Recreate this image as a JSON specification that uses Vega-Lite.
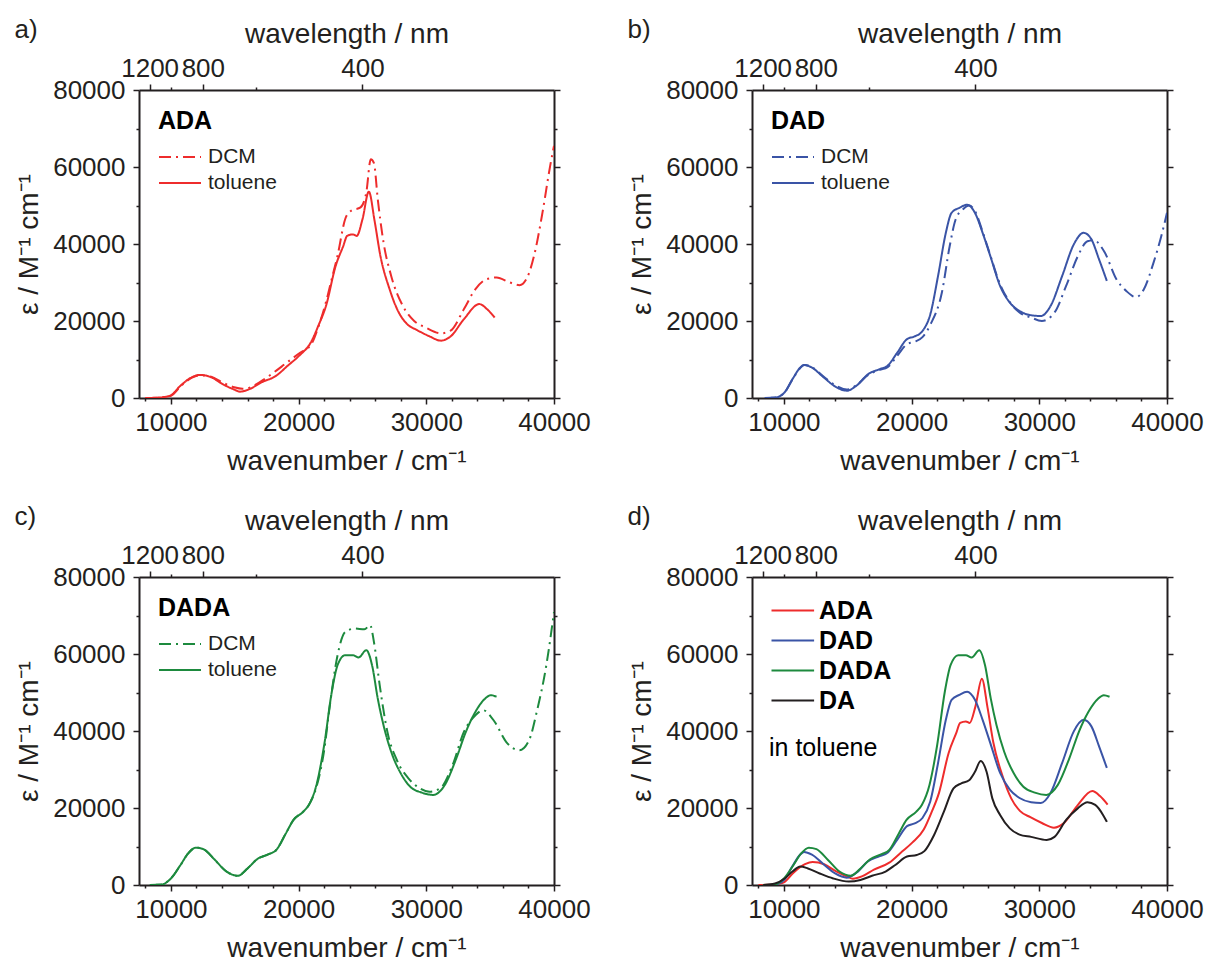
{
  "$schema": "https://vega.github.io/schema/vega-lite/v6.json",
  "background": "white",
  "padding": {"left": 14, "top": 17, "right": 5, "bottom": 5},
  "datasets": {
    "spectra": [
      {"mol":"ADA","solv":"toluene","wn":8000,"eps":0},{"mol":"ADA","solv":"toluene","wn":9000,"eps":100},{"mol":"ADA","solv":"toluene","wn":9600,"eps":300},{"mol":"ADA","solv":"toluene","wn":10000,"eps":700},{"mol":"ADA","solv":"toluene","wn":10750,"eps":3200},{"mol":"ADA","solv":"toluene","wn":11650,"eps":5400},{"mol":"ADA","solv":"toluene","wn":12250,"eps":6000},{"mol":"ADA","solv":"toluene","wn":13150,"eps":5400},{"mol":"ADA","solv":"toluene","wn":14050,"eps":3600},{"mol":"ADA","solv":"toluene","wn":14950,"eps":2200},{"mol":"ADA","solv":"toluene","wn":15400,"eps":1650},{"mol":"ADA","solv":"toluene","wn":16150,"eps":2300},{"mol":"ADA","solv":"toluene","wn":17050,"eps":4000},{"mol":"ADA","solv":"toluene","wn":18250,"eps":5800},{"mol":"ADA","solv":"toluene","wn":19150,"eps":8400},{"mol":"ADA","solv":"toluene","wn":20050,"eps":11000},{"mol":"ADA","solv":"toluene","wn":20950,"eps":14400},{"mol":"ADA","solv":"toluene","wn":21550,"eps":18800},{"mol":"ADA","solv":"toluene","wn":22150,"eps":24000},{"mol":"ADA","solv":"toluene","wn":22900,"eps":34300},{"mol":"ADA","solv":"toluene","wn":23500,"eps":39500},{"mol":"ADA","solv":"toluene","wn":23800,"eps":42100},{"mol":"ADA","solv":"toluene","wn":24250,"eps":42500},{"mol":"ADA","solv":"toluene","wn":24550,"eps":42100},{"mol":"ADA","solv":"toluene","wn":25000,"eps":46400},{"mol":"ADA","solv":"toluene","wn":25500,"eps":53600},{"mol":"ADA","solv":"toluene","wn":25950,"eps":46000},{"mol":"ADA","solv":"toluene","wn":26400,"eps":37000},{"mol":"ADA","solv":"toluene","wn":27100,"eps":28500},{"mol":"ADA","solv":"toluene","wn":27800,"eps":22500},{"mol":"ADA","solv":"toluene","wn":28500,"eps":19200},{"mol":"ADA","solv":"toluene","wn":29300,"eps":17600},{"mol":"ADA","solv":"toluene","wn":30200,"eps":16100},{"mol":"ADA","solv":"toluene","wn":31150,"eps":14900},{"mol":"ADA","solv":"toluene","wn":31900,"eps":16000},{"mol":"ADA","solv":"toluene","wn":32950,"eps":20500},{"mol":"ADA","solv":"toluene","wn":34150,"eps":24400},{"mol":"ADA","solv":"toluene","wn":34750,"eps":23100},{"mol":"ADA","solv":"toluene","wn":35350,"eps":20900},
      {"mol":"ADA","solv":"DCM","wn":8000,"eps":0},{"mol":"ADA","solv":"DCM","wn":9000,"eps":100},{"mol":"ADA","solv":"DCM","wn":10000,"eps":600},{"mol":"ADA","solv":"DCM","wn":10750,"eps":3000},{"mol":"ADA","solv":"DCM","wn":11650,"eps":5300},{"mol":"ADA","solv":"DCM","wn":12250,"eps":5900},{"mol":"ADA","solv":"DCM","wn":13150,"eps":5500},{"mol":"ADA","solv":"DCM","wn":14050,"eps":4000},{"mol":"ADA","solv":"DCM","wn":14950,"eps":2800},{"mol":"ADA","solv":"DCM","wn":15600,"eps":2400},{"mol":"ADA","solv":"DCM","wn":16150,"eps":2700},{"mol":"ADA","solv":"DCM","wn":17050,"eps":4300},{"mol":"ADA","solv":"DCM","wn":18000,"eps":6500},{"mol":"ADA","solv":"DCM","wn":19000,"eps":9000},{"mol":"ADA","solv":"DCM","wn":20000,"eps":11500},{"mol":"ADA","solv":"DCM","wn":21000,"eps":14000},{"mol":"ADA","solv":"DCM","wn":21600,"eps":19000},{"mol":"ADA","solv":"DCM","wn":22150,"eps":25000},{"mol":"ADA","solv":"DCM","wn":22600,"eps":31000},{"mol":"ADA","solv":"DCM","wn":23050,"eps":37000},{"mol":"ADA","solv":"DCM","wn":23650,"eps":46500},{"mol":"ADA","solv":"DCM","wn":24100,"eps":48600},{"mol":"ADA","solv":"DCM","wn":24850,"eps":49500},{"mol":"ADA","solv":"DCM","wn":25300,"eps":53400},{"mol":"ADA","solv":"DCM","wn":25650,"eps":62000},{"mol":"ADA","solv":"DCM","wn":25900,"eps":61000},{"mol":"ADA","solv":"DCM","wn":26200,"eps":51600},{"mol":"ADA","solv":"DCM","wn":26650,"eps":40400},{"mol":"ADA","solv":"DCM","wn":27250,"eps":31700},{"mol":"ADA","solv":"DCM","wn":28150,"eps":24000},{"mol":"ADA","solv":"DCM","wn":29050,"eps":20000},{"mol":"ADA","solv":"DCM","wn":29950,"eps":18300},{"mol":"ADA","solv":"DCM","wn":31150,"eps":16800},{"mol":"ADA","solv":"DCM","wn":31900,"eps":17500},{"mol":"ADA","solv":"DCM","wn":32950,"eps":23100},{"mol":"ADA","solv":"DCM","wn":33850,"eps":28300},{"mol":"ADA","solv":"DCM","wn":34750,"eps":30900},{"mol":"ADA","solv":"DCM","wn":35500,"eps":31300},{"mol":"ADA","solv":"DCM","wn":36550,"eps":30000},{"mol":"ADA","solv":"DCM","wn":37300,"eps":29300},{"mol":"ADA","solv":"DCM","wn":37900,"eps":31300},{"mol":"ADA","solv":"DCM","wn":38500,"eps":37800},{"mol":"ADA","solv":"DCM","wn":39100,"eps":48200},{"mol":"ADA","solv":"DCM","wn":39700,"eps":60300},{"mol":"ADA","solv":"DCM","wn":40000,"eps":65500},
      {"mol":"DAD","solv":"toluene","wn":8500,"eps":0},{"mol":"DAD","solv":"toluene","wn":9300,"eps":100},{"mol":"DAD","solv":"toluene","wn":10060,"eps":1500},{"mol":"DAD","solv":"toluene","wn":10670,"eps":4900},{"mol":"DAD","solv":"toluene","wn":11280,"eps":7900},{"mol":"DAD","solv":"toluene","wn":11580,"eps":8600},{"mol":"DAD","solv":"toluene","wn":12190,"eps":7900},{"mol":"DAD","solv":"toluene","wn":13100,"eps":5400},{"mol":"DAD","solv":"toluene","wn":14010,"eps":3000},{"mol":"DAD","solv":"toluene","wn":14920,"eps":1900},{"mol":"DAD","solv":"toluene","wn":15680,"eps":3200},{"mol":"DAD","solv":"toluene","wn":16600,"eps":6200},{"mol":"DAD","solv":"toluene","wn":17500,"eps":7500},{"mol":"DAD","solv":"toluene","wn":18120,"eps":8400},{"mol":"DAD","solv":"toluene","wn":18880,"eps":11800},{"mol":"DAD","solv":"toluene","wn":19640,"eps":15300},{"mol":"DAD","solv":"toluene","wn":20240,"eps":16000},{"mol":"DAD","solv":"toluene","wn":20850,"eps":17400},{"mol":"DAD","solv":"toluene","wn":21460,"eps":21700},{"mol":"DAD","solv":"toluene","wn":22070,"eps":31700},{"mol":"DAD","solv":"toluene","wn":22680,"eps":42900},{"mol":"DAD","solv":"toluene","wn":23130,"eps":48100},{"mol":"DAD","solv":"toluene","wn":23740,"eps":49400},{"mol":"DAD","solv":"toluene","wn":24350,"eps":50200},{"mol":"DAD","solv":"toluene","wn":24960,"eps":48100},{"mol":"DAD","solv":"toluene","wn":25560,"eps":42900},{"mol":"DAD","solv":"toluene","wn":26170,"eps":36800},{"mol":"DAD","solv":"toluene","wn":26930,"eps":29100},{"mol":"DAD","solv":"toluene","wn":27690,"eps":24800},{"mol":"DAD","solv":"toluene","wn":28450,"eps":22600},{"mol":"DAD","solv":"toluene","wn":29360,"eps":21500},{"mol":"DAD","solv":"toluene","wn":30120,"eps":21300},{"mol":"DAD","solv":"toluene","wn":30880,"eps":23900},{"mol":"DAD","solv":"toluene","wn":31790,"eps":31700},{"mol":"DAD","solv":"toluene","wn":32700,"eps":39900},{"mol":"DAD","solv":"toluene","wn":33470,"eps":42900},{"mol":"DAD","solv":"toluene","wn":34080,"eps":41200},{"mol":"DAD","solv":"toluene","wn":34680,"eps":36000},{"mol":"DAD","solv":"toluene","wn":35290,"eps":30400},
      {"mol":"DAD","solv":"DCM","wn":8500,"eps":0},{"mol":"DAD","solv":"DCM","wn":9300,"eps":100},{"mol":"DAD","solv":"DCM","wn":10060,"eps":1500},{"mol":"DAD","solv":"DCM","wn":10670,"eps":4800},{"mol":"DAD","solv":"DCM","wn":11280,"eps":7800},{"mol":"DAD","solv":"DCM","wn":11580,"eps":8600},{"mol":"DAD","solv":"DCM","wn":12190,"eps":8000},{"mol":"DAD","solv":"DCM","wn":13100,"eps":5600},{"mol":"DAD","solv":"DCM","wn":14010,"eps":3300},{"mol":"DAD","solv":"DCM","wn":14920,"eps":2200},{"mol":"DAD","solv":"DCM","wn":15680,"eps":3300},{"mol":"DAD","solv":"DCM","wn":16600,"eps":6000},{"mol":"DAD","solv":"DCM","wn":17500,"eps":7300},{"mol":"DAD","solv":"DCM","wn":18120,"eps":8000},{"mol":"DAD","solv":"DCM","wn":18880,"eps":11000},{"mol":"DAD","solv":"DCM","wn":19640,"eps":14000},{"mol":"DAD","solv":"DCM","wn":20240,"eps":14600},{"mol":"DAD","solv":"DCM","wn":20850,"eps":15800},{"mol":"DAD","solv":"DCM","wn":21460,"eps":19000},{"mol":"DAD","solv":"DCM","wn":22370,"eps":27400},{"mol":"DAD","solv":"DCM","wn":22980,"eps":39400},{"mol":"DAD","solv":"DCM","wn":23440,"eps":46300},{"mol":"DAD","solv":"DCM","wn":24050,"eps":49100},{"mol":"DAD","solv":"DCM","wn":24500,"eps":50000},{"mol":"DAD","solv":"DCM","wn":24960,"eps":48600},{"mol":"DAD","solv":"DCM","wn":25560,"eps":43200},{"mol":"DAD","solv":"DCM","wn":26170,"eps":37000},{"mol":"DAD","solv":"DCM","wn":26930,"eps":29500},{"mol":"DAD","solv":"DCM","wn":27690,"eps":24900},{"mol":"DAD","solv":"DCM","wn":28450,"eps":22200},{"mol":"DAD","solv":"DCM","wn":29360,"eps":20900},{"mol":"DAD","solv":"DCM","wn":30200,"eps":20000},{"mol":"DAD","solv":"DCM","wn":31190,"eps":22200},{"mol":"DAD","solv":"DCM","wn":32100,"eps":29100},{"mol":"DAD","solv":"DCM","wn":33010,"eps":36800},{"mol":"DAD","solv":"DCM","wn":33770,"eps":40700},{"mol":"DAD","solv":"DCM","wn":34300,"eps":41000},{"mol":"DAD","solv":"DCM","wn":34800,"eps":39500},{"mol":"DAD","solv":"DCM","wn":35140,"eps":37700},{"mol":"DAD","solv":"DCM","wn":36050,"eps":30800},{"mol":"DAD","solv":"DCM","wn":36810,"eps":27800},{"mol":"DAD","solv":"DCM","wn":37570,"eps":26200},{"mol":"DAD","solv":"DCM","wn":38180,"eps":28200},{"mol":"DAD","solv":"DCM","wn":38940,"eps":35100},{"mol":"DAD","solv":"DCM","wn":39550,"eps":42000},{"mol":"DAD","solv":"DCM","wn":40000,"eps":48100},
      {"mol":"DADA","solv":"toluene","wn":8350,"eps":0},{"mol":"DADA","solv":"toluene","wn":9250,"eps":100},{"mol":"DADA","solv":"toluene","wn":10000,"eps":1700},{"mol":"DADA","solv":"toluene","wn":10750,"eps":5200},{"mol":"DADA","solv":"toluene","wn":11350,"eps":8200},{"mol":"DADA","solv":"toluene","wn":11950,"eps":9700},{"mol":"DADA","solv":"toluene","wn":12550,"eps":9300},{"mol":"DADA","solv":"toluene","wn":13450,"eps":6500},{"mol":"DADA","solv":"toluene","wn":14350,"eps":3500},{"mol":"DADA","solv":"toluene","wn":15250,"eps":2400},{"mol":"DADA","solv":"toluene","wn":16000,"eps":4300},{"mol":"DADA","solv":"toluene","wn":16750,"eps":6700},{"mol":"DADA","solv":"toluene","wn":17650,"eps":8000},{"mol":"DADA","solv":"toluene","wn":18250,"eps":9100},{"mol":"DADA","solv":"toluene","wn":19000,"eps":13400},{"mol":"DADA","solv":"toluene","wn":19600,"eps":16900},{"mol":"DADA","solv":"toluene","wn":20350,"eps":19000},{"mol":"DADA","solv":"toluene","wn":20800,"eps":20800},{"mol":"DADA","solv":"toluene","wn":21400,"eps":26000},{"mol":"DADA","solv":"toluene","wn":22000,"eps":36300},{"mol":"DADA","solv":"toluene","wn":22600,"eps":50200},{"mol":"DADA","solv":"toluene","wn":23050,"eps":57100},{"mol":"DADA","solv":"toluene","wn":23650,"eps":59700},{"mol":"DADA","solv":"toluene","wn":24250,"eps":59700},{"mol":"DADA","solv":"toluene","wn":24700,"eps":59100},{"mol":"DADA","solv":"toluene","wn":25300,"eps":61000},{"mol":"DADA","solv":"toluene","wn":25750,"eps":57100},{"mol":"DADA","solv":"toluene","wn":26200,"eps":48400},{"mol":"DADA","solv":"toluene","wn":26650,"eps":41500},{"mol":"DADA","solv":"toluene","wn":27250,"eps":34600},{"mol":"DADA","solv":"toluene","wn":28000,"eps":29000},{"mol":"DADA","solv":"toluene","wn":28750,"eps":25500},{"mol":"DADA","solv":"toluene","wn":29650,"eps":24000},{"mol":"DADA","solv":"toluene","wn":30550,"eps":23400},{"mol":"DADA","solv":"toluene","wn":31450,"eps":26000},{"mol":"DADA","solv":"toluene","wn":32350,"eps":32900},{"mol":"DADA","solv":"toluene","wn":33100,"eps":39800},{"mol":"DADA","solv":"toluene","wn":33850,"eps":45000},{"mol":"DADA","solv":"toluene","wn":34600,"eps":48400},{"mol":"DADA","solv":"toluene","wn":35050,"eps":49300},{"mol":"DADA","solv":"toluene","wn":35500,"eps":48900},
      {"mol":"DADA","solv":"DCM","wn":8350,"eps":0},{"mol":"DADA","solv":"DCM","wn":9250,"eps":100},{"mol":"DADA","solv":"DCM","wn":10000,"eps":1700},{"mol":"DADA","solv":"DCM","wn":10750,"eps":5200},{"mol":"DADA","solv":"DCM","wn":11350,"eps":8200},{"mol":"DADA","solv":"DCM","wn":11950,"eps":9700},{"mol":"DADA","solv":"DCM","wn":12550,"eps":9300},{"mol":"DADA","solv":"DCM","wn":13450,"eps":6500},{"mol":"DADA","solv":"DCM","wn":14350,"eps":3500},{"mol":"DADA","solv":"DCM","wn":15250,"eps":2400},{"mol":"DADA","solv":"DCM","wn":16000,"eps":4300},{"mol":"DADA","solv":"DCM","wn":16750,"eps":6700},{"mol":"DADA","solv":"DCM","wn":17650,"eps":8000},{"mol":"DADA","solv":"DCM","wn":18250,"eps":9100},{"mol":"DADA","solv":"DCM","wn":19000,"eps":13400},{"mol":"DADA","solv":"DCM","wn":19600,"eps":16900},{"mol":"DADA","solv":"DCM","wn":20350,"eps":19000},{"mol":"DADA","solv":"DCM","wn":20800,"eps":20800},{"mol":"DADA","solv":"DCM","wn":21400,"eps":25500},{"mol":"DADA","solv":"DCM","wn":22000,"eps":35000},{"mol":"DADA","solv":"DCM","wn":22450,"eps":46700},{"mol":"DADA","solv":"DCM","wn":23050,"eps":59700},{"mol":"DADA","solv":"DCM","wn":23650,"eps":65700},{"mol":"DADA","solv":"DCM","wn":24400,"eps":66600},{"mol":"DADA","solv":"DCM","wn":25150,"eps":66400},{"mol":"DADA","solv":"DCM","wn":25600,"eps":67500},{"mol":"DADA","solv":"DCM","wn":25900,"eps":63100},{"mol":"DADA","solv":"DCM","wn":26350,"eps":51900},{"mol":"DADA","solv":"DCM","wn":26950,"eps":39800},{"mol":"DADA","solv":"DCM","wn":27700,"eps":32400},{"mol":"DADA","solv":"DCM","wn":28600,"eps":27700},{"mol":"DADA","solv":"DCM","wn":29500,"eps":25100},{"mol":"DADA","solv":"DCM","wn":30250,"eps":24200},{"mol":"DADA","solv":"DCM","wn":31150,"eps":25300},{"mol":"DADA","solv":"DCM","wn":32050,"eps":31100},{"mol":"DADA","solv":"DCM","wn":32950,"eps":39800},{"mol":"DADA","solv":"DCM","wn":33850,"eps":44100},{"mol":"DADA","solv":"DCM","wn":34450,"eps":45400},{"mol":"DADA","solv":"DCM","wn":35350,"eps":42400},{"mol":"DADA","solv":"DCM","wn":36250,"eps":37200},{"mol":"DADA","solv":"DCM","wn":37300,"eps":35000},{"mol":"DADA","solv":"DCM","wn":38050,"eps":37600},{"mol":"DADA","solv":"DCM","wn":38650,"eps":45000},{"mol":"DADA","solv":"DCM","wn":39400,"eps":57100},{"mol":"DADA","solv":"DCM","wn":40000,"eps":70900},
      {"mol":"DA","solv":"toluene","wn":8390,"eps":0},{"mol":"DA","solv":"toluene","wn":9300,"eps":400},{"mol":"DA","solv":"toluene","wn":10060,"eps":1700},{"mol":"DA","solv":"toluene","wn":10670,"eps":3500},{"mol":"DA","solv":"toluene","wn":11280,"eps":4800},{"mol":"DA","solv":"toluene","wn":11880,"eps":4300},{"mol":"DA","solv":"toluene","wn":12800,"eps":3000},{"mol":"DA","solv":"toluene","wn":13860,"eps":1700},{"mol":"DA","solv":"toluene","wn":15080,"eps":900},{"mol":"DA","solv":"toluene","wn":15990,"eps":1300},{"mol":"DA","solv":"toluene","wn":16900,"eps":2400},{"mol":"DA","solv":"toluene","wn":17960,"eps":3500},{"mol":"DA","solv":"toluene","wn":18720,"eps":5200},{"mol":"DA","solv":"toluene","wn":19640,"eps":7400},{"mol":"DA","solv":"toluene","wn":20400,"eps":7800},{"mol":"DA","solv":"toluene","wn":21000,"eps":8800},{"mol":"DA","solv":"toluene","wn":21760,"eps":13000},{"mol":"DA","solv":"toluene","wn":22520,"eps":19000},{"mol":"DA","solv":"toluene","wn":23280,"eps":25100},{"mol":"DA","solv":"toluene","wn":23890,"eps":26400},{"mol":"DA","solv":"toluene","wn":24500,"eps":27200},{"mol":"DA","solv":"toluene","wn":24960,"eps":29400},{"mol":"DA","solv":"toluene","wn":25410,"eps":32200},{"mol":"DA","solv":"toluene","wn":25870,"eps":29400},{"mol":"DA","solv":"toluene","wn":26320,"eps":22500},{"mol":"DA","solv":"toluene","wn":26930,"eps":18200},{"mol":"DA","solv":"toluene","wn":27690,"eps":14700},{"mol":"DA","solv":"toluene","wn":28450,"eps":13100},{"mol":"DA","solv":"toluene","wn":29360,"eps":12500},{"mol":"DA","solv":"toluene","wn":30580,"eps":11700},{"mol":"DA","solv":"toluene","wn":31190,"eps":12500},{"mol":"DA","solv":"toluene","wn":32100,"eps":16900},{"mol":"DA","solv":"toluene","wn":33010,"eps":19900},{"mol":"DA","solv":"toluene","wn":33770,"eps":21500},{"mol":"DA","solv":"toluene","wn":34380,"eps":20800},{"mol":"DA","solv":"toluene","wn":34990,"eps":18200},{"mol":"DA","solv":"toluene","wn":35290,"eps":16400}
    ]
  },
  "columns": 2,
  "spacing": {"column": 198, "row": 179},
  "bounds": "flush",
  "resolve": {"scale": {"strokeDash": "independent", "color": "independent"}, "legend": {"strokeDash": "independent", "color": "independent"}},
  "concat": [
    {
      "width": 415, "height": 308,
      "title": {"text": "a)", "dx": -124.5, "offset": -23},
      "layer": [
        {
          "data": {"name": "spectra"},
          "transform": [{"filter": "datum.mol === 'ADA'"}],
          "mark": {"type": "line", "color": "#ee2c2c", "strokeWidth": 2, "interpolate": "monotone", "clip": true},
          "encoding": {
            "x": {"field": "wn", "type": "quantitative", "scale": {"domain": [7500, 40000], "nice": false, "zero": false},
              "axis": {"orient": "bottom", "title": "wavenumber / cm⁻¹", "values": [8000,10000,12000,14000,16000,18000,20000,22000,24000,26000,28000,30000,32000,34000,36000,38000,40000], "format": "d", "labelExpr": "datum.value % 10000 === 0 ? datum.label : ''", "tickSize": {"condition": {"test": "datum.value % 10000 !== 0", "value": 3}, "value": 6}, "labelPadding": 5, "titlePadding": 12}},
            "y": {"field": "eps", "type": "quantitative", "scale": {"domain": [0, 80000], "nice": false},
              "axis": {"orient": "left", "title": "ε / M⁻¹ cm⁻¹", "values": [0,10000,20000,30000,40000,50000,60000,70000,80000], "format": "d", "labelExpr": "datum.value % 20000 === 0 ? datum.label : ''", "tickSize": {"condition": {"test": "datum.value % 20000 !== 0", "value": 3}, "value": 6}, "labelPadding": 8, "titlePadding": 9}},
            "strokeDash": {"field": "solv", "type": "nominal", "scale": {"domain": ["DCM", "toluene"], "range": [[12, 5, 2, 5], [1, 0]]},
              "legend": {"title": "ADA", "symbolStrokeColor": "#ee2c2c"}}
          }
        },
        {
          "data": {"name": "spectra"},
          "transform": [{"filter": "datum.mol === 'ADA'"}],
          "mark": {"type": "point", "opacity": 0},
          "encoding": {
            "x": {"field": "wn", "type": "quantitative", "scale": {"domain": [7500, 40000], "nice": false, "zero": false},
              "axis": {"orient": "top", "title": "wavelength / nm", "values": [8333.3333, 10000, 12500, 16666.667, 25000], "labelExpr": "(datum.value == 10000 || abs(datum.value - 16666.667) < 1) ? '' : format(1e7 / datum.value, 'd')", "tickSize": {"condition": {"test": "datum.value == 10000 || abs(datum.value - 16666.667) < 1", "value": 3}, "value": 6}, "labelPadding": 3, "titlePadding": 7}},
            "y": {"field": "eps", "type": "quantitative", "scale": {"domain": [0, 80000], "nice": false},
              "axis": {"orient": "right", "title": null, "labels": false, "values": [0,10000,20000,30000,40000,50000,60000,70000,80000], "tickSize": {"condition": {"test": "datum.value % 20000 !== 0", "value": 3}, "value": 6}}}
          }
        }
      ],
      "resolve": {"axis": {"x": "independent", "y": "independent"}}
    },
    {
      "width": 415, "height": 308,
      "title": {"text": "b)", "dx": -124.5, "offset": -23},
      "layer": [
        {
          "data": {"name": "spectra"},
          "transform": [{"filter": "datum.mol === 'DAD'"}],
          "mark": {"type": "line", "color": "#3a54a6", "strokeWidth": 2, "interpolate": "monotone", "clip": true},
          "encoding": {
            "x": {"field": "wn", "type": "quantitative", "scale": {"domain": [7500, 40000], "nice": false, "zero": false},
              "axis": {"orient": "bottom", "title": "wavenumber / cm⁻¹", "values": [8000,10000,12000,14000,16000,18000,20000,22000,24000,26000,28000,30000,32000,34000,36000,38000,40000], "format": "d", "labelExpr": "datum.value % 10000 === 0 ? datum.label : ''", "tickSize": {"condition": {"test": "datum.value % 10000 !== 0", "value": 3}, "value": 6}, "labelPadding": 5, "titlePadding": 12}},
            "y": {"field": "eps", "type": "quantitative", "scale": {"domain": [0, 80000], "nice": false},
              "axis": {"orient": "left", "title": "ε / M⁻¹ cm⁻¹", "values": [0,10000,20000,30000,40000,50000,60000,70000,80000], "format": "d", "labelExpr": "datum.value % 20000 === 0 ? datum.label : ''", "tickSize": {"condition": {"test": "datum.value % 20000 !== 0", "value": 3}, "value": 6}, "labelPadding": 8, "titlePadding": 9}},
            "strokeDash": {"field": "solv", "type": "nominal", "scale": {"domain": ["DCM", "toluene"], "range": [[12, 5, 2, 5], [1, 0]]},
              "legend": {"title": "DAD", "symbolStrokeColor": "#3a54a6"}}
          }
        },
        {
          "data": {"name": "spectra"},
          "transform": [{"filter": "datum.mol === 'DAD'"}],
          "mark": {"type": "point", "opacity": 0},
          "encoding": {
            "x": {"field": "wn", "type": "quantitative", "scale": {"domain": [7500, 40000], "nice": false, "zero": false},
              "axis": {"orient": "top", "title": "wavelength / nm", "values": [8333.3333, 10000, 12500, 16666.667, 25000], "labelExpr": "(datum.value == 10000 || abs(datum.value - 16666.667) < 1) ? '' : format(1e7 / datum.value, 'd')", "tickSize": {"condition": {"test": "datum.value == 10000 || abs(datum.value - 16666.667) < 1", "value": 3}, "value": 6}, "labelPadding": 3, "titlePadding": 7}},
            "y": {"field": "eps", "type": "quantitative", "scale": {"domain": [0, 80000], "nice": false},
              "axis": {"orient": "right", "title": null, "labels": false, "values": [0,10000,20000,30000,40000,50000,60000,70000,80000], "tickSize": {"condition": {"test": "datum.value % 20000 !== 0", "value": 3}, "value": 6}}}
          }
        }
      ],
      "resolve": {"axis": {"x": "independent", "y": "independent"}}
    },
    {
      "width": 415, "height": 308,
      "title": {"text": "c)", "dx": -124.5, "offset": -23},
      "layer": [
        {
          "data": {"name": "spectra"},
          "transform": [{"filter": "datum.mol === 'DADA'"}],
          "mark": {"type": "line", "color": "#1d8a3e", "strokeWidth": 2, "interpolate": "monotone", "clip": true},
          "encoding": {
            "x": {"field": "wn", "type": "quantitative", "scale": {"domain": [7500, 40000], "nice": false, "zero": false},
              "axis": {"orient": "bottom", "title": "wavenumber / cm⁻¹", "values": [8000,10000,12000,14000,16000,18000,20000,22000,24000,26000,28000,30000,32000,34000,36000,38000,40000], "format": "d", "labelExpr": "datum.value % 10000 === 0 ? datum.label : ''", "tickSize": {"condition": {"test": "datum.value % 10000 !== 0", "value": 3}, "value": 6}, "labelPadding": 5, "titlePadding": 12}},
            "y": {"field": "eps", "type": "quantitative", "scale": {"domain": [0, 80000], "nice": false},
              "axis": {"orient": "left", "title": "ε / M⁻¹ cm⁻¹", "values": [0,10000,20000,30000,40000,50000,60000,70000,80000], "format": "d", "labelExpr": "datum.value % 20000 === 0 ? datum.label : ''", "tickSize": {"condition": {"test": "datum.value % 20000 !== 0", "value": 3}, "value": 6}, "labelPadding": 8, "titlePadding": 9}},
            "strokeDash": {"field": "solv", "type": "nominal", "scale": {"domain": ["DCM", "toluene"], "range": [[12, 5, 2, 5], [1, 0]]},
              "legend": {"title": "DADA", "symbolStrokeColor": "#1d8a3e"}}
          }
        },
        {
          "data": {"name": "spectra"},
          "transform": [{"filter": "datum.mol === 'DADA'"}],
          "mark": {"type": "point", "opacity": 0},
          "encoding": {
            "x": {"field": "wn", "type": "quantitative", "scale": {"domain": [7500, 40000], "nice": false, "zero": false},
              "axis": {"orient": "top", "title": "wavelength / nm", "values": [8333.3333, 10000, 12500, 16666.667, 25000], "labelExpr": "(datum.value == 10000 || abs(datum.value - 16666.667) < 1) ? '' : format(1e7 / datum.value, 'd')", "tickSize": {"condition": {"test": "datum.value == 10000 || abs(datum.value - 16666.667) < 1", "value": 3}, "value": 6}, "labelPadding": 3, "titlePadding": 7}},
            "y": {"field": "eps", "type": "quantitative", "scale": {"domain": [0, 80000], "nice": false},
              "axis": {"orient": "right", "title": null, "labels": false, "values": [0,10000,20000,30000,40000,50000,60000,70000,80000], "tickSize": {"condition": {"test": "datum.value % 20000 !== 0", "value": 3}, "value": 6}}}
          }
        }
      ],
      "resolve": {"axis": {"x": "independent", "y": "independent"}}
    },
    {
      "width": 415, "height": 308,
      "title": {"text": "d)", "dx": -124.5, "offset": -23},
      "layer": [
        {
          "data": {"name": "spectra"},
          "transform": [{"filter": "datum.solv === 'toluene'"}],
          "mark": {"type": "line", "strokeWidth": 2, "interpolate": "monotone", "clip": true},
          "encoding": {
            "x": {"field": "wn", "type": "quantitative", "scale": {"domain": [7500, 40000], "nice": false, "zero": false},
              "axis": {"orient": "bottom", "title": "wavenumber / cm⁻¹", "values": [8000,10000,12000,14000,16000,18000,20000,22000,24000,26000,28000,30000,32000,34000,36000,38000,40000], "format": "d", "labelExpr": "datum.value % 10000 === 0 ? datum.label : ''", "tickSize": {"condition": {"test": "datum.value % 10000 !== 0", "value": 3}, "value": 6}, "labelPadding": 5, "titlePadding": 12}},
            "y": {"field": "eps", "type": "quantitative", "scale": {"domain": [0, 80000], "nice": false},
              "axis": {"orient": "left", "title": "ε / M⁻¹ cm⁻¹", "values": [0,10000,20000,30000,40000,50000,60000,70000,80000], "format": "d", "labelExpr": "datum.value % 20000 === 0 ? datum.label : ''", "tickSize": {"condition": {"test": "datum.value % 20000 !== 0", "value": 3}, "value": 6}, "labelPadding": 8, "titlePadding": 9}},
            "color": {"field": "mol", "type": "nominal", "scale": {"domain": ["ADA", "DAD", "DADA", "DA"], "range": ["#ee2c2c", "#3a54a6", "#1d8a3e", "#231f20"]},
              "legend": {"title": "in toluene", "titleOrient": "bottom", "titleFontWeight": "normal", "titleFontSize": 25, "titlePadding": 22, "labelFontWeight": "bold", "labelFontSize": 25, "labelColor": "#000000", "rowPadding": 4, "labelOffset": 25, "symbolType": "M-1,0H3.26", "orient": "none", "legendX": 17, "legendY": 21}}
          }
        },
        {
          "data": {"name": "spectra"},
          "transform": [{"filter": "datum.solv === 'toluene'"}],
          "mark": {"type": "point", "opacity": 0},
          "encoding": {
            "x": {"field": "wn", "type": "quantitative", "scale": {"domain": [7500, 40000], "nice": false, "zero": false},
              "axis": {"orient": "top", "title": "wavelength / nm", "values": [8333.3333, 10000, 12500, 16666.667, 25000], "labelExpr": "(datum.value == 10000 || abs(datum.value - 16666.667) < 1) ? '' : format(1e7 / datum.value, 'd')", "tickSize": {"condition": {"test": "datum.value == 10000 || abs(datum.value - 16666.667) < 1", "value": 3}, "value": 6}, "labelPadding": 3, "titlePadding": 7}},
            "y": {"field": "eps", "type": "quantitative", "scale": {"domain": [0, 80000], "nice": false},
              "axis": {"orient": "right", "title": null, "labels": false, "values": [0,10000,20000,30000,40000,50000,60000,70000,80000], "tickSize": {"condition": {"test": "datum.value % 20000 !== 0", "value": 3}, "value": 6}}}
          }
        }
      ],
      "resolve": {"axis": {"x": "independent", "y": "independent"}}
    }
  ],
  "config": {
    "font": "Liberation Sans",
    "view": {"stroke": null},
    "axis": {
      "labelFont": "Liberation Sans", "titleFont": "Liberation Sans",
      "labelFontSize": 26, "titleFontSize": 28, "titleFontWeight": "normal",
      "labelColor": "#231f20", "titleColor": "#231f20",
      "domainColor": "#231f20", "tickColor": "#231f20",
      "domainWidth": 2, "tickWidth": 1.5, "grid": false,
      "labelFlush": false, "labelOverlap": false, "labelBound": false
    },
    "title": {"font": "Liberation Sans", "fontSize": 26, "fontWeight": "normal", "color": "#231f20", "anchor": "start", "frame": "group"},
    "legend": {
      "orient": "top-left", "offset": 19, "padding": 0,
      "titleFont": "Liberation Sans", "titleFontSize": 25, "titleFontWeight": "bold", "titleColor": "#000000", "titlePadding": 12,
      "labelFont": "Liberation Sans", "labelFontSize": 21, "labelColor": "#231f20", "labelLimit": 400,
      "symbolType": "M-1,0H3.2", "symbolSize": 400, "symbolStrokeWidth": 2,
      "labelOffset": 28, "rowPadding": 5
    }
  }
}
